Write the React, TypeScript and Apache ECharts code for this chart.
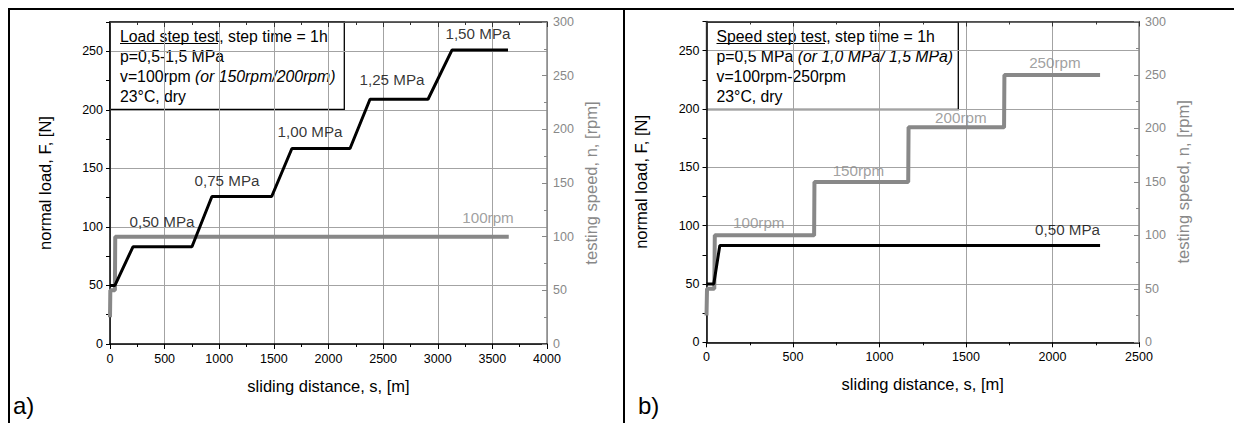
import React, { useEffect, useRef } from "react";
import * as echarts from "echarts";

// ---------- data ----------
// Panel a) load step test
const loadA: number[][] = [
  [0, 50], [45, 50], [210, 83], [750, 83], [933, 126], [1480, 126], [1665, 167],
  [2197, 167], [2380, 209], [2911, 209], [3130, 251], [3643, 251],
];
const speedA: number[][] = [[0, 25], [3, 50], [45, 50], [48, 100], [3650, 100]];
const loadLabelsA: [number, number, string][] = [
  [476, 104.5, "0,50 MPa"], [1071, 139.5, "0,75 MPa"], [1831, 181.5, "1,00 MPa"],
  [2581, 226, "1,25 MPa"], [3368, 265, "1,50 MPa"],
];
const speedLabelsA: [number, number, string][] = [[3460, 117.4, "100rpm"]];

// Panel b) speed step test
const loadB: number[][] = [[0, 50], [42, 50], [77, 83], [2275, 83]];
const speedB: number[][] = [
  [0, 25], [3, 50], [45, 50], [48, 100], [622, 100], [624, 150], [1166, 150],
  [1168, 201], [1720, 201], [1722, 250], [2275, 250],
];
const loadLabelsB: [number, number, string][] = [[2087, 96.6, "0,50 MPa"]];
const speedLabelsB: [number, number, string][] = [
  [302, 111.6, "100rpm"], [878, 161, "150rpm"], [1470, 210, "200rpm"], [2014, 262, "250rpm"],
];

const xMaxA = 4000;
const xMaxB = 2500;
const loadMax = 275;
const speedMax = 300;

const xName = "sliding distance, s, [m]";
const yLeftName = "normal load, F, [N]";
const yRightName = "testing speed, n, [rpm]";

// ---------- style ----------
const FONT = "'Liberation Sans', Arial, Helvetica, sans-serif";
const GRAY = "#888888";
const GRID_LINE = "#a3a3a3";

function xAxes(gridIndex: number, max: number) {
  return [
    {
      type: "value", gridIndex, position: "bottom", min: 0, max, interval: 500,
      name: xName, nameLocation: "middle", nameGap: 33,
      nameTextStyle: { fontSize: 16.5, color: "#000", fontFamily: FONT },
      axisLine: { show: true, onZero: false, lineStyle: { color: "#000", width: 1.5 } },
      axisTick: { show: true, length: 5, lineStyle: { color: "#000" } },
      minorTick: { show: true, splitNumber: 2, length: 3, lineStyle: { color: "#000" } },
      axisLabel: { fontSize: 12.5, color: "#000", margin: 8, fontFamily: FONT, formatter: (v: number) => String(v) },
      splitLine: { show: true, lineStyle: { color: GRID_LINE, width: 1 } },
    },
    {
      type: "value", gridIndex, position: "top", min: 0, max, interval: 500,
      axisLine: { show: true, onZero: false, lineStyle: { color: "#333", width: 1.5 } },
      axisTick: { show: true, inside: true, length: 5, lineStyle: { color: "#333" } },
      minorTick: { show: true, splitNumber: 2, length: 3, lineStyle: { color: "#333" } },
      axisLabel: { show: false },
      splitLine: { show: false },
    },
  ];
}

function yAxes(gridIndex: number) {
  return [
    {
      type: "value", gridIndex, position: "left", min: 0, max: loadMax, interval: 25,
      name: yLeftName, nameLocation: "middle", nameGap: 57, nameRotate: 90,
      nameTextStyle: { fontSize: 16.5, color: "#000", fontFamily: FONT },
      axisLine: { show: true, onZero: false, lineStyle: { color: "#000", width: 1.5 } },
      axisTick: { show: true, length: 4, lineStyle: { color: "#000" } },
      axisLabel: {
        fontSize: 12.5, color: "#000", margin: 7, fontFamily: FONT,
        formatter: (v: number) => (v % 50 === 0 && v <= 250 ? String(v) : ""),
      },
      splitLine: { show: false },
    },
    {
      type: "value", gridIndex, position: "right", min: 0, max: speedMax, interval: 50,
      name: yRightName, nameLocation: "middle", nameGap: 35, nameRotate: 90,
      nameTextStyle: { fontSize: 16.5, color: GRAY, fontFamily: FONT },
      axisLine: { show: true, onZero: false, lineStyle: { color: GRAY, width: 1.5 } },
      axisTick: { show: true, inside: true, length: 5, lineStyle: { color: GRAY } },
      minorTick: { show: true, splitNumber: 2, length: 3, lineStyle: { color: GRAY } },
      axisLabel: { fontSize: 12.5, color: GRAY, margin: 6, fontFamily: FONT, formatter: (v: number) => String(v) },
      splitLine: { show: false },
    },
    {
      // helper axis that only draws the horizontal grid lines every 50 N
      type: "value", gridIndex, position: "left", min: 0, max: loadMax, interval: 50,
      axisLine: { show: false }, axisTick: { show: false }, axisLabel: { show: false },
      splitLine: { show: true, lineStyle: { color: GRID_LINE, width: 1 } },
    },
  ];
}

function labelSeries(xi: number, yi: number, items: [number, number, string][], color: string) {
  return {
    type: "scatter", xAxisIndex: xi, yAxisIndex: yi, silent: true, z: 5,
    symbolSize: 1, itemStyle: { color: "rgba(0,0,0,0)" },
    data: items.map(([x, y, t]) => ({ value: [x, y], name: t })),
    label: {
      show: true, position: "inside", formatter: "{b}", fontSize: 15.2,
      color, fontFamily: FONT,
    },
  };
}

function legendBox(x: number, w: number, lines: any[], underlineW: number) {
  const children: any[] = [
    { type: "rect", shape: { x, y: 22, width: w, height: 87.5 },
      style: { fill: "#fff", stroke: "#000", lineWidth: 1.3 } },
  ];
  lines.forEach((ln, i) => {
    children.push({
      type: "text", x: x + 10, y: 36 + i * 20,
      style: {
        text: ln, fill: "#000", fontSize: 15.8, fontFamily: FONT,
        verticalAlign: "middle", align: "left",
        rich: { i: { fontStyle: "italic", fontSize: 15.8, fontFamily: FONT, fill: "#000" } },
      },
    });
  });
  children.push({ type: "line", shape: { x1: x + 10, y1: 43.5, x2: x + 10 + underlineW, y2: 43.5 },
    style: { stroke: "#000", lineWidth: 1 } });
  return { type: "group", z: 10, children };
}

export default function App() {
  const ref = useRef<HTMLDivElement>(null);
  useEffect(() => {
    const chart = echarts.init(ref.current!, null, { renderer: "svg" });
    chart.setOption({
      animation: false,
      backgroundColor: "#fff",
      textStyle: { fontFamily: FONT },
      grid: [
        { left: 110, top: 22, width: 437, height: 322, outerBoundsMode: "none" },
        { left: 706.5, top: 21.5, width: 432.5, height: 320.8, outerBoundsMode: "none" },
      ],
      xAxis: [...xAxes(0, xMaxA), ...xAxes(1, xMaxB)],
      yAxis: [...yAxes(0), ...yAxes(1)],
      series: [
        { type: "line", xAxisIndex: 0, yAxisIndex: 1, data: speedA, symbol: "none",
          lineStyle: { color: GRAY, width: 4 }, z: 2 },
        { type: "line", xAxisIndex: 0, yAxisIndex: 0, data: loadA, symbol: "none",
          lineStyle: { color: "#000", width: 3 }, z: 3 },
        labelSeries(0, 0, loadLabelsA, "#000"),
        labelSeries(0, 1, speedLabelsA, GRAY),
        { type: "line", xAxisIndex: 2, yAxisIndex: 4, data: speedB, symbol: "none",
          lineStyle: { color: GRAY, width: 4 }, z: 2 },
        { type: "line", xAxisIndex: 2, yAxisIndex: 3, data: loadB, symbol: "none",
          lineStyle: { color: "#000", width: 3 }, z: 3 },
        labelSeries(2, 3, loadLabelsB, "#000"),
        labelSeries(2, 4, speedLabelsB, GRAY),
      ],
      graphic: [
        // outer frame and divider
        { type: "line", shape: { x1: 8, y1: 9, x2: 1234, y2: 9 }, style: { stroke: "#000", lineWidth: 2 } },
        { type: "line", shape: { x1: 9, y1: 8, x2: 9, y2: 423 }, style: { stroke: "#000", lineWidth: 2 } },
        { type: "line", shape: { x1: 624, y1: 8, x2: 624, y2: 423 }, style: { stroke: "#000", lineWidth: 2 } },
        { type: "text", x: 13, y: 405, style: { text: "a)", fontSize: 24, fontFamily: FONT, fill: "#000", verticalAlign: "middle" } },
        { type: "text", x: 638, y: 405, style: { text: "b)", fontSize: 24, fontFamily: FONT, fill: "#000", verticalAlign: "middle" } },
        legendBox(110, 234.3, [
          "Load step test, step time = 1h",
          "p=0,5-1,5 MPa",
          "v=100rpm {i|(or 150rpm/200rpm)}",
          "23°C, dry",
        ], 98),
        legendBox(706.5, 251.8, [
          "Speed step test, step time = 1h",
          "p=0,5 MPa {i|(or 1,0 MPa/ 1,5 MPa)}",
          "v=100rpm-250rpm",
          "23°C, dry",
        ], 108.5),
      ],
    });
    return () => chart.dispose();
  }, []);
  return (
    <div
      ref={ref}
      style={{ position: "fixed", left: 0, top: 0, width: 1234, height: 423, background: "#fff" }}
    />
  );
}
